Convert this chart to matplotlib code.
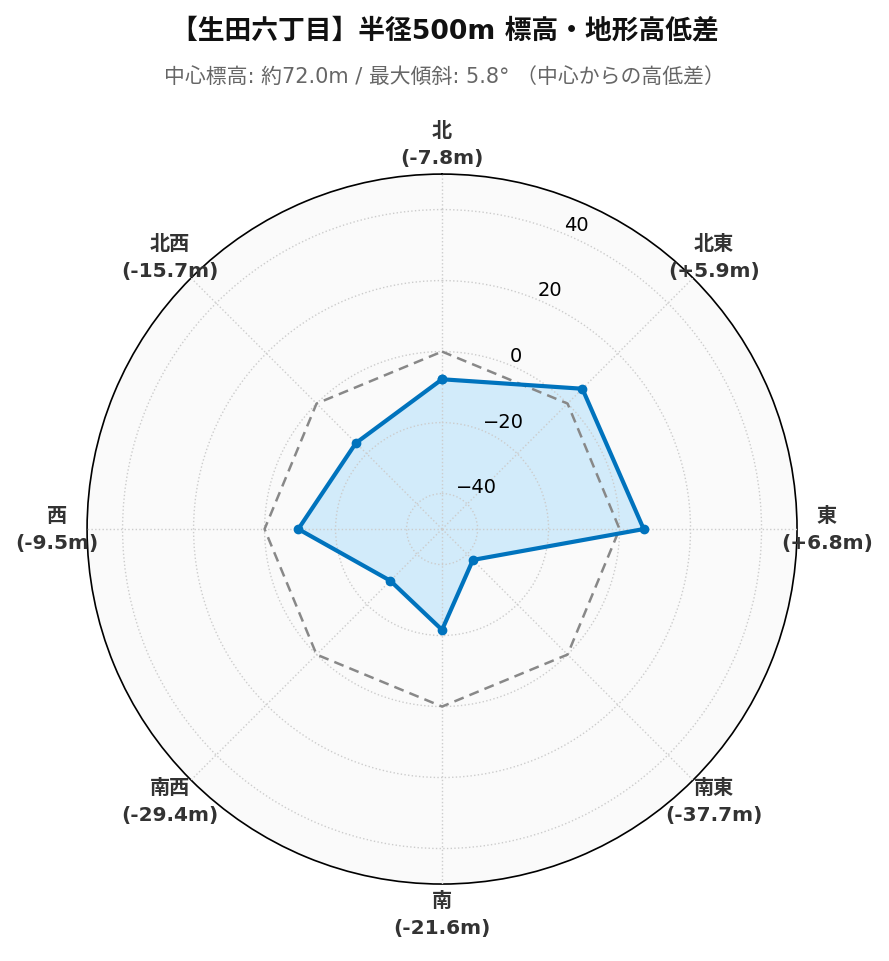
import numpy as np
import matplotlib
matplotlib.use("Agg")
import matplotlib.pyplot as plt

plt.rcParams['font.family'] = ['DejaVu Sans', 'Noto Sans CJK JP']

# 方位と中心からの高低差 (m)
directions = ['北', '北東', '東', '南東', '南', '南西', '西', '北西']
diffs = [-7.8, 5.9, 6.8, -37.7, -21.6, -29.4, -9.5, -15.7]
r_ticks = [-40, -20, 0, 20, 40]

title = '【生田六丁目】半径500m 標高・地形高低差'
subtitle = '中心標高: 約72.0m / 最大傾斜: 5.8° （中心からの高低差）'

n = len(directions)
angles = np.linspace(0, 2 * np.pi, n, endpoint=False)
ang_c = np.append(angles, angles[0])
val_c = np.append(diffs, diffs[0])
zero_c = np.zeros(n + 1)

fig = plt.figure(figsize=(8.89, 9.62), dpi=100)
ax = fig.add_axes([0.0979, 0.080, 0.7987, 0.738], projection='polar')
ax.set_facecolor('#fafafa')
ax.set_theta_zero_location('N')
ax.set_theta_direction(-1)
ax.set_axisbelow(False)

ax.fill(ang_c, val_c, color='#87CEFA', alpha=0.34, zorder=2)
ax.plot(ang_c, zero_c, color='#888888', lw=1.8, ls=(0, (4, 2.5)), zorder=3)
ax.plot(ang_c, val_c, color='#0073BD', lw=3, marker='o', ms=6, zorder=4)

ax.set_ylim(-50, 50)
ax.set_yticks(r_ticks)
ax.set_rlabel_position(22.5)
ax.tick_params(axis='y', labelsize=14, labelcolor='black')

labels = [f'{d}\n({v:+.1f}m)' if v > 0 else f'{d}\n({v:.1f}m)'
          for d, v in zip(directions, diffs)]
ax.set_xticks(angles)
ax.set_xticklabels(labels, fontsize=14.5, fontweight='bold', color='#333333',
                   linespacing=1.5)
ax.tick_params(axis='x', pad=11)

ax.grid(True, color='#cccccc', ls=':', lw=1)
ax.spines['polar'].set_color('black')
ax.spines['polar'].set_linewidth(1.2)

fig.text(0.5, 0.967, title, ha='center', va='center', fontsize=19.3,
         fontweight='bold', color='#111111')
fig.text(0.5, 0.920, subtitle, ha='center', va='center', fontsize=15,
         color='#666666')

fig.savefig('out.png', dpi=100)
